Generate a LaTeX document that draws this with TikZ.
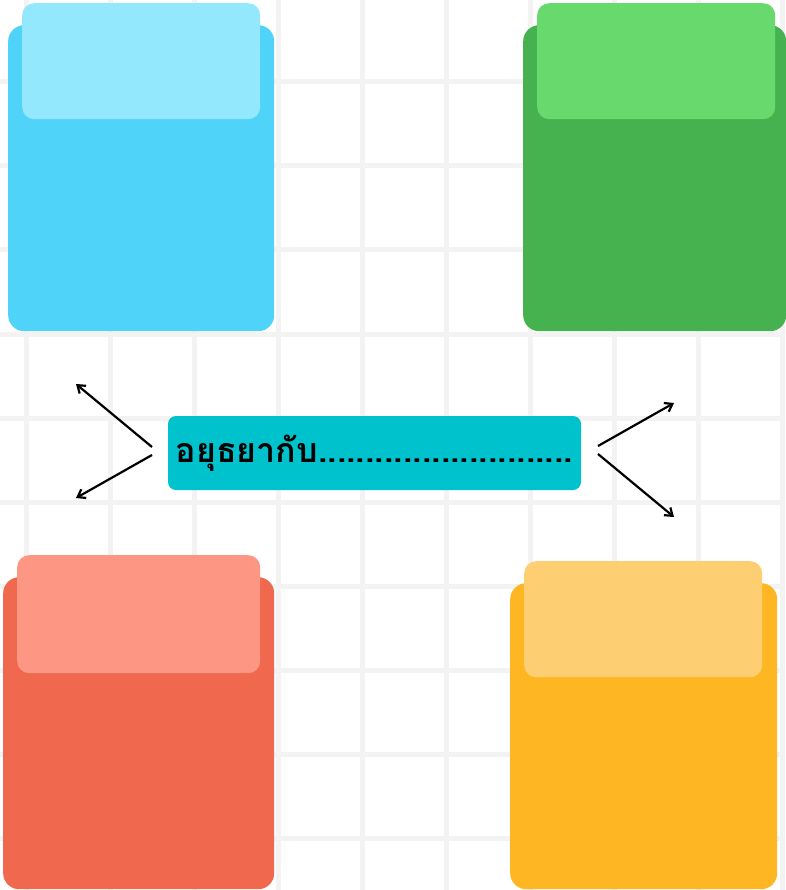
\documentclass[tikz,border=0pt]{standalone}
\usepackage{fontspec}
\newfontfamily\thaifont[Script=Thai]{Loma}
\usetikzlibrary{arrows.meta, positioning}
\definecolor{cGrid}{RGB}{243,243,243}
\definecolor{cBlueD}{HTML}{4FD3F8}
\definecolor{cBlueL}{HTML}{93E8FE}
\definecolor{cGreenD}{HTML}{46B14F}
\definecolor{cGreenL}{HTML}{67D96D}
\definecolor{cRedD}{HTML}{F0694F}
\definecolor{cRedL}{HTML}{FD9682}
\definecolor{cYellowD}{HTML}{FEB723}
\definecolor{cYellowL}{HTML}{FECF72}
\definecolor{cTeal}{HTML}{00C2CC}

\begin{document}
\begin{tikzpicture}[x=1pt, y=-1pt,
            bk/.style={rectangle, rounded corners=16pt, inner sep=0pt, anchor=north west},
            tp/.style={rectangle, rounded corners=12pt, inner sep=0pt, anchor=north west, minimum width=238pt, minimum height=116pt},
            ar/.style={draw=black, line width=2.2pt, -{Straight Barb[length=7pt, width=10pt]}}]
            \useasboundingbox (0,0) rectangle (785,890);
            \fill[white] (0,0) rectangle (785,890);
            % background grid
            \foreach \g in {26,110,...,782} \draw[cGrid, line width=5pt] (\g,0) -- (\g,890);
            \foreach \g in {82,166,...,838} \draw[cGrid, line width=5pt] (0,\g) -- (785,\g);
            % four cards
            \node[bk, fill=cBlueD, minimum width=266pt, minimum height=306pt]   (blueBk) at (8,25) {};
            \node[tp, fill=cBlueL]                                               (blueTp) at (22,3) {};
            \node[bk, fill=cGreenD, minimum width=263pt, minimum height=306pt]  (greenBk) at (523,25) {};
            \node[tp, fill=cGreenL]                                              (greenTp) at (537,3) {};
            \node[bk, fill=cRedD, minimum width=271pt, minimum height=312pt]    (redBk) at (3,577) {};
            \node[tp, fill=cRedL, minimum width=243pt, minimum height=118pt]    (redTp) at (17,555) {};
            \node[bk, fill=cYellowD, minimum width=267pt, minimum height=306pt] (yellowBk) at (510,583) {};
            \node[tp, fill=cYellowL]                                             (yellowTp) at (524,561) {};
            % topic
            \node[fill=cTeal, rounded corners=8pt, inner sep=0pt, minimum width=413pt, minimum height=74pt,
                  font=\thaifont\bfseries\fontsize{34}{40}\selectfont] (topic) at (374.5,453) {อยุธยากับ...........................};
            \coordinate (lFromA) at (152,447);
            \coordinate (lFromB) at (152,455);
            \coordinate (rFromA) at (598,446);
            \coordinate (rFromB) at (598,454);
            \coordinate (lToA) at (76,384);
            \coordinate (lToB) at (76,498);
            \coordinate (rToA) at (674,403);
            \coordinate (rToB) at (674,517);
            \draw[ar] (lFromA) -- (lToA);
            \draw[ar] (lFromB) -- (lToB);
            \draw[ar] (rFromA) -- (rToA);
            \draw[ar] (rFromB) -- (rToB);
        \end{tikzpicture}
\end{document}
